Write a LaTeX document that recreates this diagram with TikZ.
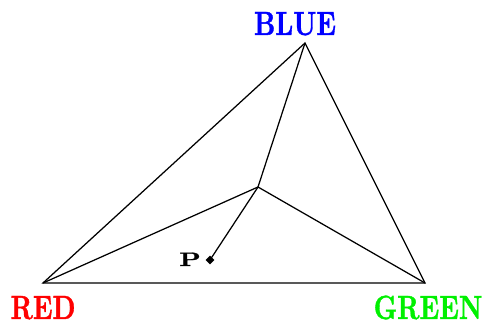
\documentclass[tikz,border=0pt]{standalone}
\usepackage{fontspec}
\setmainfont{lmroman10-regular.otf}[BoldFont=lmroman10-bold.otf]
\newfontfamily\lblfont{lmroman10-bold.otf}[FakeBold=1.2]
\usepackage{graphicx}
\usetikzlibrary{shapes.geometric}
\definecolor{blu}{RGB}{0,0,255}
\definecolor{rd}{RGB}{255,0,0}
\definecolor{grn}{RGB}{0,240,0}
\begin{document}
\begin{tikzpicture}[x=1pt,y=-1pt,
  edge/.style={draw=black,line width=1.25pt},
  vlabel/.style={anchor=base,inner sep=0pt,font=\lblfont\fontsize{26}{30}\selectfont},
  dot/.style={diamond,fill=black,inner sep=0pt,minimum size=9pt}]
\useasboundingbox (0,0) rectangle (485,323);
\coordinate (R) at (43,283);
\coordinate (G) at (425,283);
\coordinate (B) at (305,43);
\coordinate (Q) at (258,187);
\node[dot] (P) at (210,260) {};
\node[vlabel,text=blu] (lb) at (295,35) {\scalebox{1}[1.29]{BLUE}};
\node[vlabel,text=rd] (lr) at (43,319) {\scalebox{1}[1.29]{RED}};
\node[vlabel,text=grn] (lg) at (428,319) {\scalebox{1}[1.29]{GREEN}};
\node[anchor=base,inner sep=0pt,font=\lblfont\fontsize{26}{30}\selectfont] (lp) at (190,266) {\scalebox{1.05}[0.75]{P}};
\draw[edge] (R) -- (G) -- (B) -- cycle;
\draw[edge] (Q) -- (R);
\draw[edge] (Q) -- (G);
\draw[edge] (Q) -- (B);
\draw[edge] (Q) -- (P.center);
\end{tikzpicture}
\end{document}
